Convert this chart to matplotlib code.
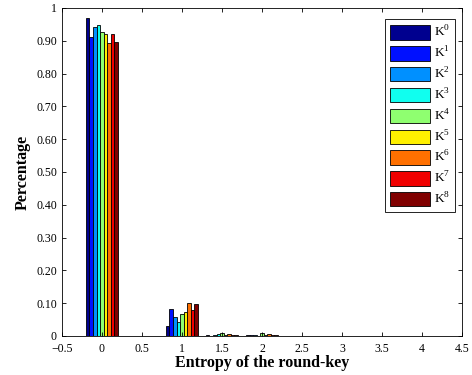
import numpy as np
import matplotlib
matplotlib.use("Agg")
import matplotlib.pyplot as plt

plt.rcParams['font.family'] = ['Liberation Serif', 'DejaVu Serif']
plt.rcParams['mathtext.fontset'] = 'custom'
plt.rcParams['mathtext.rm'] = 'Liberation Serif'

# entropy values (group centres) and the share of each round-key K^0..K^8
entropy = [0, 1, 1.5, 2]
k0 = [0.970, 0.030, 0.002, 0.004]
k1 = [0.911, 0.082, 0.001, 0.003]
k2 = [0.941, 0.057, 0.003, 0.002]
k3 = [0.948, 0.044, 0.006, 0.001]
k4 = [0.927, 0.067, 0.009, 0.008]
k5 = [0.921, 0.074, 0.004, 0.002]
k6 = [0.892, 0.100, 0.005, 0.005]
k7 = [0.920, 0.079, 0.003, 0.002]
k8 = [0.897, 0.097, 0.004, 0.004]
series = [k0, k1, k2, k3, k4, k5, k6, k7, k8]
labels = ['K$^{%d}$' % i for i in range(9)]

colors = ['#00008F', '#0010FF', '#0090FF', '#10FFEF', '#8FFF70',
          '#FFF000', '#FF7000', '#F00000', '#800000']

xticks = [-0.5, 0, 0.5, 1, 1.5, 2, 2.5, 3, 3.5, 4, 4.5]
xticklabels = ['\u22120.5', '0', '0.5', '1', '1.5', '2', '2.5', '3', '3.5', '4', '4.5']
yticks = np.arange(0, 1.01, 0.1)
yticklabels = ['0'] + ['%.2f' % v for v in yticks[1:-1]] + ['1']

fig = plt.figure(figsize=(4.72, 3.75), dpi=100)
ax = fig.add_axes([0.131, 0.104, 0.848, 0.875])

n = len(series)
group_w = 0.4  # 0.8 of the 0.5 category spacing
bw = group_w / n
x = np.array(entropy)
for i, vals in enumerate(series):
    offs = -group_w / 2 + bw * (i + 0.5)
    ax.bar(x + offs, vals, width=bw, color=colors[i], edgecolor='black',
           linewidth=0.6, label=labels[i])

ax.set_xlim(-0.5, 4.5)
ax.set_ylim(0, 1)
ax.set_xticks(xticks)
ax.set_xticklabels(xticklabels)
ax.set_yticks(yticks)
ax.set_yticklabels(yticklabels)
ax.tick_params(direction='in', top=True, right=True, labelsize=8.5, length=3, width=0.6)
ax.tick_params(axis='x', pad=5)
for s in ax.spines.values():
    s.set_linewidth(0.6)

ax.set_xlabel('Entropy of the round-key', fontsize=11.5, fontweight='bold', labelpad=0)
ax.set_ylabel('Percentage', fontsize=11.5, fontweight='bold', labelpad=4)

leg = ax.legend(loc='upper right', fontsize=9.5, handlelength=3.0, handleheight=1.3,
                handletextpad=0.3, labelspacing=0.42, borderpad=0.4,
                fancybox=False, edgecolor='black', framealpha=1,
                bbox_to_anchor=(1.0, 0.985))
leg.get_frame().set_linewidth(0.6)

fig.savefig('out.png', dpi=100)
